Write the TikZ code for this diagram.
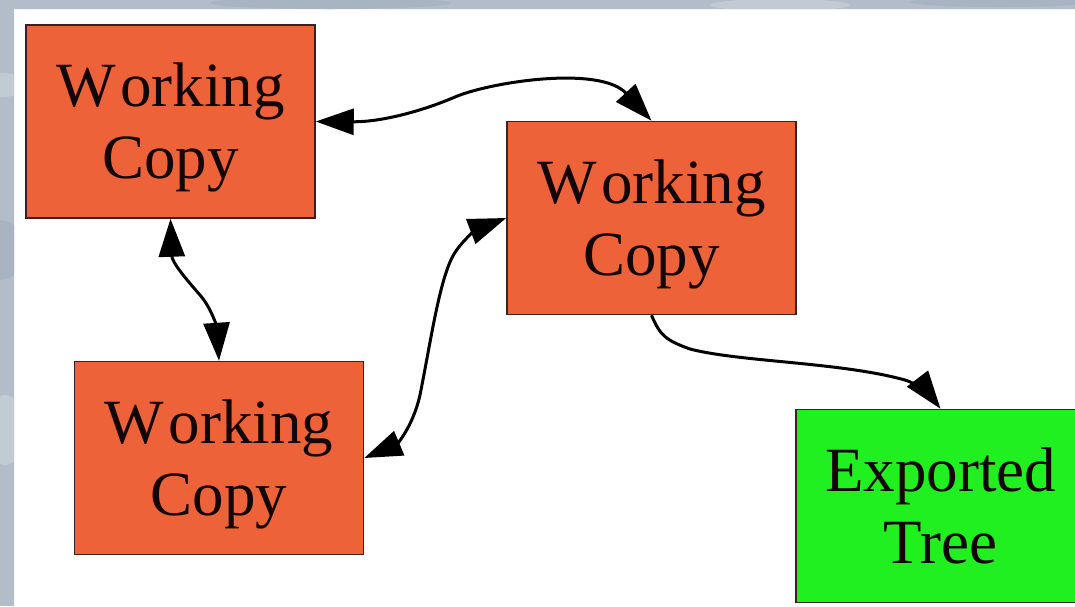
\documentclass[tikz,border=0pt]{standalone}
\usepackage{fontspec}
\setmainfont{Liberation Serif}
\usetikzlibrary{arrows.meta}
\definecolor{wcfill}{HTML}{EE6239}
\definecolor{etfill}{HTML}{20F020}
\definecolor{edgec}{HTML}{3A2020}
\definecolor{bgblue}{HTML}{B2BDC9}
\definecolor{bglight}{HTML}{C2CAD4}
\definecolor{bgdark}{HTML}{A8B4C1}
\definecolor{ink}{HTML}{120606}
\tikzset{
  box/.style={draw=edgec,line width=1.5pt,minimum width=289pt,minimum height=193pt,inner sep=0pt,align=center,text=ink,font=\fontsize{63}{72}\selectfont,text height=150pt,text depth=36pt},
  wc/.style={box,fill=wcfill},
  et/.style={box,fill=etfill},
  link/.style={line width=3pt,black,{Triangle[length=38pt,width=26pt]}-{Triangle[length=38pt,width=26pt]}},
  oneway/.style={line width=3pt,black,-{Triangle[length=38pt,width=26pt]}}
}
\begin{document}
\begin{tikzpicture}[x=1pt,y=-1pt]
\useasboundingbox (0,0) rectangle (1075,606);
\fill[white] (0,0) rectangle (1075,606);
% mottled backdrop
\begin{scope}
\clip (0,0) rectangle (1075,9) (0,0) rectangle (14,606);
\fill[bgblue] (0,0) rectangle (1075,606);
\fill[bglight] (0,85) ellipse (30 and 12);
\fill[bgdark] (0,250) ellipse (25 and 30);
\fill[bglight] (5,430) ellipse (20 and 35);
\fill[bgdark] (330,3) ellipse (120 and 6);
\fill[bglight] (780,5) ellipse (70 and 6);
\fill[bgdark] (1000,2) ellipse (90 and 5);
\end{scope}
\node[wc] (a) at (170.5,121.5) {W\kern5pt orking\\Copy};
\node[wc] (b) at (651.5,218) {W\kern5pt orking\\Copy};
\node[wc] (c) at (219,458) {W\kern5pt orking\\Copy};
\node[et] (d) at (940.5,506) {Exported\\Tree};
\draw[link] (a.east) .. controls (380,122) and (420,112) .. (455,97)
  .. controls (490,82) and (600,65) .. (b.north);
\draw[link] (a.south) .. controls (172,262) and (185,278) .. (200,295)
  .. controls (213,310) and (217,330) .. (c.north);
\draw[link] (c.east) .. controls (395,445) and (412,430) .. (420,395)
  .. controls (430,345) and (438,290) .. (450,262)
  .. controls (458,242) and (480,228) .. (b.west);
\draw[oneway] (b.south) .. controls (660,335) and (665,340) .. (690,349)
  .. controls (740,362) and (840,362) .. (905,380)
  .. controls (920,385) and (930,395) .. (d.north);
\end{tikzpicture}
\end{document}
